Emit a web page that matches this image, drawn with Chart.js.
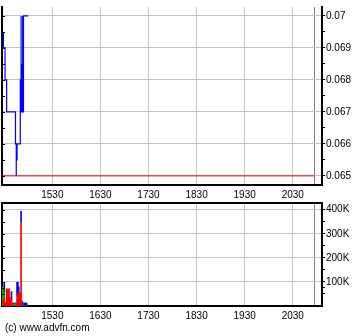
<!DOCTYPE html>
<html>
<head>
<meta charset="utf-8">
<script src="https://cdn.jsdelivr.net/npm/chart.js@4/dist/chart.umd.min.js"></script>
<style>
  html, body { margin: 0; padding: 0; background: #fff; }
  #wrap { position: relative; width: 360px; height: 336px; overflow: hidden; }
  canvas { position: absolute; left: 0; }
  #price { top: 0; }
  #vol { top: 196px; }
  #copy { position: absolute; left: 5px; top: 322px; font: 10px "Liberation Sans", Arial, sans-serif; color: #000; }
</style>
</head>
<body>
<div id="wrap">
  <canvas id="price" width="360" height="199"></canvas>
  <canvas id="vol" width="360" height="124"></canvas>
  <div id="copy">(c) www.advfn.com</div>
</div>
<script>
// time axis, minutes since midnight
const timeMin = 867.2;
const timeMax = 1266.5;
const closeMinute = 1257;
const hourTicks = [930, 990, 1050, 1110, 1170, 1230];
const hourLabels = ["1530", "1630", "1730", "1830", "1930", "2030"];

// price (step line)
const priceTimes = [869, 869, 871, 873, 884, 885, 885, 886, 890, 891, 891, 892, 892, 893, 893, 894, 900];
const priceValues = [0.0695, 0.069, 0.068, 0.067, 0.066, 0.065, 0.0655, 0.066, 0.068, 0.07, 0.067, 0.0685, 0.067, 0.07, 0.067, 0.07, 0.07];
const prevClose = 0.065;
const priceTicks = [0.065, 0.066, 0.067, 0.068, 0.069, 0.07];
const priceTickLabels = ["0.065", "0.066", "0.067", "0.068", "0.069", "0.07"];

// volume per minute (thousands)
const volMinutes = [868, 869, 870, 871, 872, 873, 874, 875, 876, 877, 878, 879, 880, 881, 882, 883, 884, 885, 886, 887, 888, 889, 890, 891, 892, 893, 894, 895, 896, 897, 898];
const volSell    = [0, 25, 30, 10, 0, 70, 70, 65, 70, 30, 35, 25, 5, 0, 0, 3, 0, 0, 45, 50, 55, 52, 50, 345, 0, 0, 0, 0, 0, 0, 0];
const volOther   = [80, 50, 25, 5, 3, 0, 0, 0, 0, 0, 0, 0, 3, 5, 8, 5, 10, 4, 0, 0, 0, 5, 5, 3, 0, 0, 0, 0, 0, 0, 0];
const volBuy     = [0, 0, 43, 0, 0, 0, 0, 0, 0, 0, 0, 35, 5, 3, 4, 0, 3, 8, 53, 48, 25, 0, 0, 45, 20, 15, 0, 12, 12, 12, 12];
const volTicks = [100000, 200000, 300000, 400000];
const volTickLabels = ["100K", "200K", "300K", "400K"];

const FONT = { family: "'Liberation Sans', Arial, sans-serif", size: 10 };
const GRID = "#c4c4c4";
const CLOSE_GRID = "#808080";

function halfSteps(list) {
  // major ticks plus the minor ones half way between
  const out = [];
  list.forEach((v, i) => {
    out.push(v);
    if (i < list.length - 1) out.push((v + list[i + 1]) / 2);
  });
  return out;
}

function majorIndex(list, v) {
  return list.findIndex(m => Math.abs(m - v) < 1e-9 * Math.max(1, Math.abs(m)));
}

const innerTicks = {
  id: "innerTicks",
  afterDraw(chart) {
    const { ctx, chartArea } = chart;
    const sc = chart.scales.y;
    ctx.save();
    ctx.strokeStyle = "#000";
    ctx.lineWidth = 1;
    sc.ticks.forEach(t => {
      const py = Math.round(sc.getPixelForValue(t.value)) + 0.5;
      ctx.beginPath();
      ctx.moveTo(chartArea.left, py);
      ctx.lineTo(chartArea.left + 3, py);
      ctx.stroke();
    });
    ctx.restore();
  }
};

function timeAxis() {
  return {
    type: "linear",
    position: "bottom",
    min: timeMin,
    max: timeMax,
    offset: false,
    stacked: true,
    afterBuildTicks: s => { s.ticks = hourTicks.concat([closeMinute]).map(v => ({ value: v })); },
    afterFit: s => { s.height = 14; },
    grid: {
      offset: false,
      color: c => (c.tick && c.tick.value === closeMinute ? CLOSE_GRID : GRID),
      drawTicks: false
    },
    border: { color: "#000", width: 2 },
    ticks: {
      padding: 4,
      maxRotation: 0,
      autoSkip: false,
      color: "#000",
      font: FONT,
      callback: v => { const i = hourTicks.indexOf(v); return i >= 0 ? hourLabels[i] : ""; }
    }
  };
}

function leftBorder() {
  return {
    type: "linear",
    position: "left",
    display: true,
    afterFit: s => { s.width = 0; },
    ticks: { display: false },
    grid: { drawOnChartArea: false, drawTicks: false },
    border: { color: "#000", width: 2 }
  };
}

Chart.defaults.font.family = FONT.family;

new Chart(document.getElementById("price"), {
  type: "line",
  data: {
    datasets: [
      {
        data: priceTimes.map((t, i) => ({ x: t, y: priceValues[i] })),
        borderColor: "#0000ff",
        borderWidth: 1.2,
        stepped: true,
        pointRadius: 0,
        fill: false
      },
      {
        data: [{ x: timeMin, y: prevClose }, { x: closeMinute, y: prevClose }],
        borderColor: "#ff0000",
        borderWidth: 1,
        pointRadius: 0,
        fill: false
      }
    ]
  },
  options: {
    responsive: false,
    animation: false,
    devicePixelRatio: 1,
    layout: { padding: { left: 2, right: 0, top: 0, bottom: 0 } },
    plugins: { legend: { display: false }, tooltip: { enabled: false } },
    scales: {
      x: timeAxis(),
      y: {
        type: "linear",
        position: "right",
        min: 0.0647142,
        max: 0.07028,
        afterBuildTicks: s => { s.ticks = halfSteps(priceTicks).map(v => ({ value: v })); },
        afterFit: s => { s.width = 38; },
        grid: {
          color: c => (c.tick && majorIndex(priceTicks, c.tick.value) >= 0 ? GRID : "rgba(0,0,0,0)"),
          tickColor: "#000",
          tickLength: 3
        },
        border: { color: "#000", width: 2 },
        ticks: {
          padding: 1,
          color: "#000",
          font: FONT,
          autoSkip: false,
          callback: v => { const i = majorIndex(priceTicks, v); return i >= 0 ? priceTickLabels[i] : ""; }
        }
      },
      yl: leftBorder()
    }
  },
  plugins: [innerTicks]
});

function volSet(values, color) {
  return {
    data: volMinutes.map((t, i) => ({ x: t, y: values[i] * 1000 })),
    backgroundColor: color,
    borderWidth: 0,
    barThickness: 1,
    stack: "v"
  };
}

new Chart(document.getElementById("vol"), {
  type: "bar",
  data: {
    datasets: [
      volSet(volSell, "#ff0000"),
      volSet(volOther, "#00aa00"),
      volSet(volBuy, "#0000ff")
    ]
  },
  options: {
    responsive: false,
    animation: false,
    devicePixelRatio: 1,
    layout: { padding: { left: 2, right: 0, top: 3, bottom: 0 } },
    plugins: { legend: { display: false }, tooltip: { enabled: false } },
    scales: {
      x: timeAxis(),
      xt: {
        type: "linear",
        position: "top",
        display: true,
        min: timeMin,
        max: timeMax,
        afterFit: s => { s.height = 0; },
        ticks: { display: false },
        grid: { drawOnChartArea: false, drawTicks: false },
        border: { color: "#000", width: 2 }
      },
      y: {
        type: "linear",
        position: "right",
        stacked: true,
        min: 0,
        max: 428000,
        afterBuildTicks: s => { s.ticks = halfSteps([50000].concat(volTicks)).map(v => ({ value: v })); },
        afterFit: s => { s.width = 38; },
        grid: {
          color: c => (c.tick && volTicks.indexOf(c.tick.value) >= 0 ? GRID : "rgba(0,0,0,0)"),
          tickColor: "#000",
          tickLength: 3
        },
        border: { color: "#000", width: 2 },
        ticks: {
          padding: 1,
          color: "#000",
          font: FONT,
          autoSkip: false,
          callback: v => { const i = volTicks.indexOf(v); return i >= 0 ? volTickLabels[i] : ""; }
        }
      },
      yl: leftBorder()
    }
  },
  plugins: [innerTicks]
});
</script>
</body>
</html>
